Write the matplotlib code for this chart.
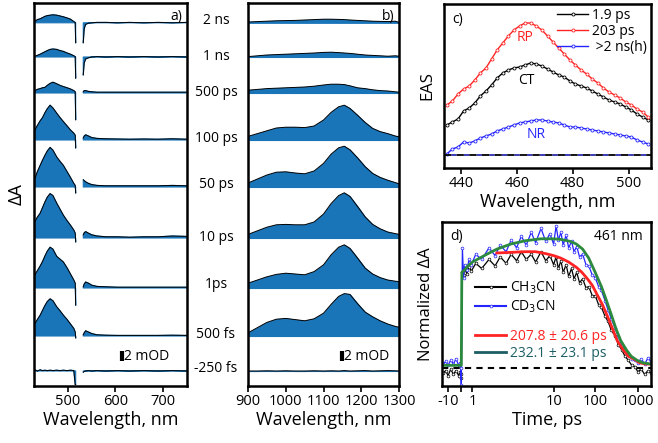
"""
Transient absorption panels (a, b), EAS (c) and 461 nm kinetics (d).
"""

import numpy as np
import matplotlib
matplotlib.use("Agg")
import matplotlib.pyplot as plt
from matplotlib.lines import Line2D
from matplotlib.ticker import NullLocator

plt.rcParams["font.family"] = ["Open Sans", "DejaVu Sans"]

BLUE_FILL = "#1a74b8"
RED = "#ff2424"
BLUE = "#2424ff"
GREEN = "#2b8a3e"
TEAL = "#1d5e66"
nan = np.nan

# ── panel a / b: stacked spectra (mOD) ──────────────────────────────────────
delays = ["2 ns", "1 ns", "500 ps", "100 ps", "50 ps", "10 ps", "1ps", "500 fs", "-250 fs"]
offsets = [90.8, 82.25, 73.25, 61.5, 49.75, 37.0, 24.5, 12.5, 3.75]

wl_a = [430, 435, 441, 446, 451, 456, 462, 468, 476, 483, 490, 498, 505, 512, 515, 516,
        524, 532, 534, 537, 543, 550, 561, 580, 604, 630, 660, 690, 720, 750]

a_2ns = [0.3, 0.8, 1.0, 1.3, 1.6, 1.8, 1.9, 2.0, 1.9, 1.7, 1.5, 1.2, 0.9, 0.3, 0.1, -5.0,
         nan, -5.0, -1.5, -0.4, -0.1, 0.0, 0.1, 0.1, 0.0, 0.1, 0.0, 0.1, 0.0, 0.1]
a_1ns = [0.2, 0.4, 0.7, 1.0, 1.3, 1.6, 1.9, 2.0, 1.9, 1.6, 1.4, 1.0, 0.7, 0.3, 0.1, -5.3,
         nan, -4.5, -1.5, -0.5, -0.2, 0.0, 0.1, 0.0, 0.1, 0.0, 0.1, 0.0, 0.1, 0.0]
a_500ps = [0.6, 0.9, 1.1, 1.3, 1.4, 1.9, 2.4, 2.7, 2.3, 1.9, 1.6, 1.3, 1.0, 0.6, 0.3, -6.7,
           nan, 0.3, 0.6, 0.6, 0.4, 0.3, 0.2, 0.2, 0.2, 0.2, 0.2, 0.2, 0.2, 0.2]
a_100ps = [2.5, 3.6, 4.8, 5.6, 6.8, 7.8, 8.7, 8.0, 6.7, 5.6, 4.6, 3.5, 2.5, 1.7, 1.2, -2.0,
           nan, 0.5, 1.0, 1.3, 1.0, 0.6, 0.4, 0.3, 0.25, 0.2, 0.25, 0.2, 0.3, 0.2]
a_50ps = [2.1, 3.8, 5.4, 6.7, 7.9, 9.0, 9.9, 9.2, 7.5, 6.4, 5.4, 3.8, 2.4, 0.9, 0.4, -1.5,
          nan, 1.8, 1.6, 1.3, 0.9, 0.6, 0.4, 0.3, 0.3, 0.3, 0.3, 0.3, 0.4, 0.3]
a_10ps = [4.1, 5.2, 6.2, 7.6, 9.0, 10.2, 11.1, 10.6, 8.7, 7.2, 5.7, 4.3, 3.2, 2.0, 1.2, -1.0,
          nan, 0.8, 1.3, 1.6, 1.2, 0.8, 0.5, 0.3, 0.3, 0.2, 0.3, 0.3, 0.5, 0.4]
a_1ps = [3.3, 4.3, 5.5, 6.6, 8.0, 9.2, 10.2, 9.7, 7.9, 7.2, 6.5, 5.0, 3.5, 2.0, 1.2, -4.3,
         nan, 0.3, 1.0, 1.5, 1.2, 0.7, 0.4, 0.3, 0.2, 0.2, 0.2, 0.2, 0.2, 0.2]
a_500fs = [3.1, 4.1, 5.2, 6.4, 7.6, 8.6, 9.3, 8.8, 7.3, 6.3, 5.2, 4.1, 3.0, 1.9, 1.0, -0.5,
           nan, 0.3, 0.8, 1.3, 1.0, 0.6, 0.3, 0.2, 0.15, 0.15, 0.15, 0.15, 0.2, 0.15]
a_m250fs = [0.3, 0.0, 0.3, 0.1, 0.2, 0.1, 0.2, 0.1, 0.2, 0.1, 0.2, 0.1, 0.2, 0.1, -3.4, -3.4,
            nan, -0.3, -0.1, 0.0, 0.1, 0.0, 0.1, 0.0, 0.1, 0.0, 0.1, 0.0, 0.1, 0.0]

wl_b = [900, 925, 950, 975, 1000, 1025, 1050, 1075, 1100, 1120, 1140, 1155, 1170, 1190,
        1210, 1230, 1250, 1270, 1290, 1300]

b_2ns = [0.2, 0.3, 0.4, 0.5, 0.55, 0.6, 0.7, 0.8, 0.9, 0.9, 0.85, 0.8, 0.7, 0.6, 0.5, 0.4,
         0.35, 0.3, 0.4, 0.1]
b_1ns = [0.1, 0.3, 0.5, 0.6, 0.7, 0.8, 0.9, 1.0, 1.15, 1.2, 1.1, 1.0, 0.9, 0.7, 0.5, 0.4,
         0.3, 0.2, 0.3, 0.2]
b_500ps = [0.7, 0.9, 1.1, 1.2, 1.3, 1.4, 1.5, 1.7, 2.0, 2.2, 2.2, 2.1, 1.8, 1.3, 1.1, 0.8,
           0.6, 0.5, 0.3, 0.2]
b_100ps = [0.9, 1.6, 2.3, 3.0, 3.2, 3.2, 3.1, 3.5, 5.0, 6.9, 8.3, 8.7, 7.9, 6.2, 4.4, 2.9,
           2.1, 1.6, 1.0, 0.8]
b_50ps = [1.0, 2.0, 3.0, 3.7, 3.8, 3.5, 3.3, 4.0, 5.9, 8.2, 9.8, 10.2, 9.3, 7.3, 5.1, 3.4,
          2.4, 1.7, 1.1, 0.8]
b_10ps = [0.9, 1.8, 2.7, 3.3, 3.4, 3.3, 3.3, 4.0, 6.0, 8.6, 10.6, 11.3, 10.4, 7.9, 5.3, 3.4,
          2.3, 1.5, 1.1, 0.9]
b_1ps = [1.2, 2.0, 2.8, 3.4, 3.7, 3.5, 3.3, 4.1, 5.8, 8.3, 10.2, 10.8, 9.9, 7.5, 5.0, 3.5,
         2.6, 2.0, 1.7, 1.6]
b_500fs = [0.8, 2.1, 3.4, 4.2, 4.4, 4.1, 3.8, 4.3, 5.7, 7.9, 9.9, 10.6, 10.4, 8.1, 6.0, 4.8,
           3.8, 3.0, 2.4, 2.2]
b_m250fs = [0.0, 0.0, 0.05, 0.0, 0.05, 0.0, 0.0, 0.05, 0.0, 0.05, 0.0, 0.1, 0.0, 0.05, 0.1,
            0.0, 0.05, 0.1, 0.05, 0.0]

# ── panel c: EAS ────────────────────────────────────────────────────────────
wl_c = [435, 437, 439, 441, 443, 445, 447, 449, 451, 453, 455, 457, 459, 461, 463, 465, 467,
        469, 471, 473, 475, 477, 479, 481, 483, 485, 487, 489, 491, 493, 495, 497, 499, 501,
        503, 505, 507]
eas_1p9ps = [0.30, 0.33, 0.36, 0.44, 0.47, 0.52, 0.59, 0.64, 0.70, 0.77, 0.82, 0.85, 0.87,
             0.88, 0.90, 0.92, 0.91, 0.89, 0.86, 0.83, 0.80, 0.78, 0.74, 0.71, 0.69, 0.67,
             0.64, 0.61, 0.58, 0.55, 0.53, 0.51, 0.48, 0.45, 0.41, 0.38, 0.35]
eas_203ps = [0.50, 0.54, 0.61, 0.66, 0.69, 0.75, 0.82, 0.87, 0.96, 1.05, 1.12, 1.19, 1.25,
             1.29, 1.32, 1.32, 1.29, 1.25, 1.19, 1.13, 1.07, 1.01, 0.95, 0.90, 0.85, 0.81,
             0.76, 0.72, 0.67, 0.63, 0.60, 0.57, 0.53, 0.50, 0.46, 0.43, 0.38]
eas_2ns = [0.01, 0.06, 0.08, 0.13, 0.12, 0.14, 0.17, 0.19, 0.21, 0.24, 0.26, 0.28, 0.30,
           0.32, 0.33, 0.34, 0.35, 0.35, 0.34, 0.33, 0.32, 0.30, 0.28, 0.28, 0.27, 0.26,
           0.25, 0.24, 0.23, 0.22, 0.21, 0.20, 0.19, 0.18, 0.15, 0.13, 0.11]

# ── panel d: kinetics at 461 nm ─────────────────────────────────────────────
t_kin = [-14, -12, -10, -8, -6, -4, -2, -1, -0.5, 0, 0.1, 0.2, 0.3, 0.5, 0.7, 0.9, 1.1, 1.3,
         1.6, 1.9, 2.2, 2.6, 3.0, 3.5, 4.0, 4.6, 5.3, 6.0, 7.0, 8.0, 9.0, 10, 11.5, 13, 15, 17,
         20, 23, 27, 31, 36, 42, 50, 60, 70, 85, 100, 120, 140, 170, 200, 240, 290, 350, 420,
         500, 600, 720, 860, 1000, 1200, 1450, 1750, 2000]
kin_ch3cn = [-0.04, -0.02, -0.06, -0.01, -0.05, -0.02, -0.06, -0.03, -0.05, -0.08, 0.74, 0.72,
             0.77, 0.73, 0.78, 0.75, 0.81, 0.77, 0.84, 0.79, 0.86, 0.81, 0.88, 0.83, 0.90, 0.84,
             0.88, 0.82, 0.90, 0.83, 0.87, 0.80, 0.86, 0.77, 0.83, 0.74, 0.80, 0.71, 0.77, 0.69,
             0.74, 0.66, 0.69, 0.62, 0.63, 0.56, 0.56, 0.49, 0.47, 0.40, 0.36, 0.29, 0.25, 0.18,
             0.14, 0.09, 0.06, 0.02, 0.01, -0.03, -0.01, -0.05, -0.02, -0.04]
kin_cd3cn = [0.03, 0.05, 0.02, 0.06, 0.03, 0.07, 0.02, 0.04, 0.00, -0.13, 0.93, 0.70, 0.80,
             0.76, 0.84, 0.80, 0.88, 0.84, 0.93, 0.87, 0.95, 0.90, 0.99, 0.93, 1.02, 0.95, 1.05,
             0.97, 1.08, 0.98, 1.04, 0.96, 1.10, 0.99, 1.05, 0.95, 1.03, 0.93, 0.98, 0.90, 0.94,
             0.86, 0.88, 0.80, 0.79, 0.72, 0.70, 0.63, 0.60, 0.52, 0.45, 0.38, 0.31, 0.24, 0.18,
             0.14, 0.10, 0.07, 0.06, 0.04, 0.07, 0.03, 0.08, 0.05]

t_fit_cd3cn = [-15, 0.0, 0.05, 0.3, 0.6, 1.0, 1.5, 2.0, 3.0, 4.5, 7.0, 10, 15, 25, 35, 50, 70,
               100, 140, 180, 240, 310, 400, 540, 700, 950, 1300, 2000]
fit_cd3cn = [0.02, 0.02, 0.74, 0.76, 0.79, 0.82, 0.88, 0.92, 0.96, 0.985, 1.0, 1.0, 0.995,
             0.98, 0.96, 0.92, 0.85, 0.74, 0.63, 0.53, 0.41, 0.30, 0.21, 0.14, 0.09, 0.06,
             0.04, 0.03]
t_fit_ch3cn = [2.0, 3.0, 4.5, 6.0, 8.0, 10, 15, 23, 35, 48, 65, 85, 110, 148, 200, 257, 330,
               455, 600, 800, 1100, 1500, 2000]
fit_ch3cn = [0.89, 0.895, 0.9, 0.9, 0.885, 0.87, 0.85, 0.82, 0.78, 0.74, 0.69, 0.64, 0.57,
             0.49, 0.39, 0.30, 0.21, 0.14, 0.09, 0.07, 0.04, 0.03, 0.03]

# piecewise time axis of panel d: linear below 1 ps, log above (pixel knots)
S_KNOTS = [-20, -10, 0, 1, 2, 3, 4, 5]
P_KNOTS = [436, 448, 461, 472, 552, 593, 635, 677]


def t_forward(t):
    t = np.asarray(t, dtype=float)
    s = np.where(t > 1, 1 + np.log10(np.clip(t, 1, None)), t)
    return np.interp(s, S_KNOTS, P_KNOTS)


def t_inverse(u):
    u = np.asarray(u, dtype=float)
    s = np.interp(u, P_KNOTS, S_KNOTS)
    return np.where(s > 1, 10 ** (s - 1), s)


W, H = 658, 443


def add_ax(fig, left, top, right, bottom):
    return fig.add_axes([left / W, 1 - bottom / H, (right - left) / W, (bottom - top) / H])


def style(ax):
    for sp in ax.spines.values():
        sp.set_linewidth(1.8)
    ax.set_yticks([])
    ax.tick_params(axis="x", direction="out", length=4, width=1.2, labelsize=10.5, pad=2)


def main():
    fig = plt.figure(figsize=(W / 100, H / 100), dpi=100)

    ax_a = add_ax(fig, 34, 3, 187, 386)
    ax_b = add_ax(fig, 248, 3, 399, 386)
    ax_c = add_ax(fig, 444, 4, 651, 168)
    ax_d = add_ax(fig, 442, 222, 651, 386)

    rows_a = [a_2ns, a_1ns, a_500ps, a_100ps, a_50ps, a_10ps, a_1ps, a_500fs, a_m250fs]
    rows_b = [b_2ns, b_1ns, b_500ps, b_100ps, b_50ps, b_10ps, b_1ps, b_500fs, b_m250fs]

    for off, ya, yb in zip(offsets, rows_a, rows_b):
        ya = off + np.array(ya, dtype=float)
        yb = off + np.array(yb, dtype=float)
        ax_a.fill_between(wl_a, off, ya, facecolor=BLUE_FILL, edgecolor=BLUE_FILL, lw=0.8)
        ax_a.plot(wl_a, ya, color="black", lw=0.7)
        ax_b.fill_between(wl_b, off, yb, facecolor=BLUE_FILL, edgecolor=BLUE_FILL, lw=0.8)
        ax_b.plot(wl_b, yb, color="black", lw=0.7)

    for ax, xlim, ticks, bar_x, lab in [
        (ax_a, (428, 751), [500, 600, 700], 613, "a)"),
        (ax_b, (900, 1300), [900, 1000, 1100, 1200, 1300], 1148, "b)"),
    ]:
        style(ax)
        ax.set_xlim(*xlim)
        ax.set_ylim(0, 95.75)
        ax.set_xticks(ticks)
        ax.set_xlabel("Wavelength, nm", fontsize=13, labelpad=1)
        ax.plot([bar_x, bar_x], [6.3, 8.7], color="black", lw=3, solid_capstyle="butt")
        ax.text(bar_x + (xlim[1] - xlim[0]) * 0.018, 7.5, "2 mOD", fontsize=10, va="center")
        ax.text(0.97, 0.985, lab, transform=ax.transAxes, ha="right", va="top", fontsize=10)

    ax_a.set_ylabel("ΔA", fontsize=13, labelpad=6)

    label_y = [20, 57, 92, 139, 184, 237, 284, 335, 369]
    for name, py in zip(delays, label_y):
        fig.text(216 / W, 1 - py / H, name, ha="center", va="center", fontsize=10)

    # panel c
    style(ax_c)
    for y, col, lbl in [(eas_1p9ps, "black", "1.9 ps"),
                        (eas_203ps, RED, "203 ps"),
                        (eas_2ns, BLUE, " >2 ns(h)")]:
        ax_c.plot(wl_c, y, color=col, lw=1.0, marker="o", ms=2.2, mfc="white", mew=0.6,
                  label=lbl)
    ax_c.plot([434, 508], [0, 0], color="black", lw=1.3, dashes=(4, 3), gapcolor="#2b2bb0")
    ax_c.set_xlim(434, 508)
    ax_c.set_ylim(-0.13, 1.51)
    ax_c.set_xticks([440, 460, 480, 500])
    ax_c.set_xlabel("Wavelength, nm", fontsize=13, labelpad=1)
    ax_c.set_ylabel("EAS", fontsize=12, labelpad=6)
    ax_c.text(463, 1.18, "RP", color=RED, fontsize=10, ha="center", va="center")
    ax_c.text(463.6, 0.75, "CT", color="black", fontsize=10, ha="center", va="center")
    ax_c.text(467, 0.20, "NR", color=BLUE, fontsize=10, ha="center", va="center")
    ax_c.text(0.04, 0.95, "c)", transform=ax_c.transAxes, ha="left", va="top", fontsize=10)
    ax_c.legend(loc="upper right", frameon=False, fontsize=10, handlelength=2.2,
                handletextpad=0.3, labelspacing=0.05, borderaxespad=0.1, borderpad=0.2)

    # panel d
    style(ax_d)
    ax_d.set_xscale("function", functions=(t_forward, t_inverse))
    ax_d.plot(t_kin, kin_ch3cn, color="black", lw=0.9, marker="o", ms=2.0, mfc="white", mew=0.5)
    ax_d.plot(t_kin, kin_cd3cn, color=BLUE, lw=0.9, marker="o", ms=2.0, mfc="white", mew=0.5)
    ax_d.plot(t_fit_ch3cn, fit_ch3cn, color=RED, lw=2.0)
    ax_d.plot(t_fit_cd3cn, fit_cd3cn, color=GREEN, lw=2.0)
    ax_d.plot([-15, 2040], [0, 0], color="black", lw=1.5, dashes=(3, 2.5))
    ax_d.set_xlim(-15, 2040)
    ax_d.set_ylim(-0.14, 1.13)
    ax_d.set_xticks([-10, 0, 1, 10, 100, 1000])
    ax_d.set_xticklabels(["-10", "", "1", "10", "100", "1000"])
    ax_d.xaxis.set_minor_locator(NullLocator())
    ax_d.set_xlabel("Time, ps", fontsize=13, labelpad=1)
    ax_d.set_ylabel("Normalized ΔA", fontsize=12, labelpad=6)
    ax_d.text(0.04, 0.96, "d)", transform=ax_d.transAxes, ha="left", va="top", fontsize=10)
    ax_d.text(0.96, 0.96, "461 nm", transform=ax_d.transAxes, ha="right", va="top", fontsize=10)

    h_sol = [Line2D([], [], color="black", lw=1.5, marker="o", ms=2.0, mfc="white", mew=0.5),
             Line2D([], [], color=BLUE, lw=1.5, marker="o", ms=2.0, mfc="white", mew=0.5)]
    leg1 = ax_d.legend(h_sol, ["CH$_3$CN", "CD$_3$CN"], loc="center left",
                       bbox_to_anchor=(0.1, 0.54), frameon=False, fontsize=10,
                       handlelength=2.2, handletextpad=0.3, labelspacing=0.15)
    ax_d.add_artist(leg1)
    h_fit = [Line2D([], [], color=RED, lw=2.0), Line2D([], [], color=TEAL, lw=2.0)]
    ax_d.legend(h_fit, ["207.8 ± 20.6 ps", "232.1 ± 23.1 ps"], loc="center left",
                bbox_to_anchor=(0.1, 0.25), frameon=False, fontsize=10, handlelength=2.2,
                handletextpad=0.3, labelspacing=0.15, labelcolor=[RED, TEAL])

    fig.savefig("out.png", dpi=100)
    plt.close(fig)


if __name__ == "__main__":
    main()
